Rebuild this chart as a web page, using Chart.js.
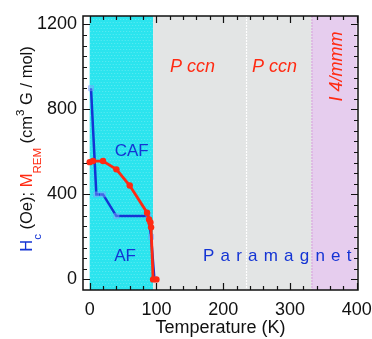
<!DOCTYPE html>
<html>
<head>
<meta charset="utf-8">
<script src="https://cdn.jsdelivr.net/npm/chart.js"></script>
<style>
  html, body { margin: 0; padding: 0; background: #fff; }
  #wrap { width: 372px; height: 339px; }
</style>
</head>
<body>
<div id="wrap"><canvas id="chart"></canvas></div>
<script>
// === Données ===
const hcTemp = [2, 10, 20, 40, 88, 92, 97];
const hcVal = [900, 400, 400, 298, 298, 200, 0];
const mremTemp = [0, 5, 20, 40, 60, 86, 89, 91, 92, 95, 100];
const mremVal = [552, 557, 557, 518, 442, 314, 282, 268, 245, 0, 0];

// zones de phase (en K)
const phaseStart = [0, 95, 333];
const phaseEnd = [95, 333, 400];
const phaseColor = ['#2be4ee', '#e3e5e5', '#e6cdee'];
const phaseSep = 235;

const xTicks = [0, 100, 200, 300, 400];
const yTicks = [0, 400, 800, 1200];

const FONT = "'Liberation Sans', Arial, sans-serif";
const BLUE = '#1434d4';
const RED = '#ff2a12';

// === Fond coloré des phases ===
const phasesPlugin = {
  id: 'phases',
  beforeDatasetsDraw(chart) {
    const { ctx, chartArea: a, scales: { x } } = chart;
    ctx.save();
    phaseStart.forEach((s, i) => {
      const x0 = x.getPixelForValue(s);
      const x1 = x.getPixelForValue(phaseEnd[i]);
      ctx.fillStyle = phaseColor[i];
      ctx.fillRect(x0, a.top, x1 - x0, a.bottom - a.top);
    });
    // petits points blancs sur la zone cyan
    ctx.fillStyle = 'rgba(255,255,255,0.25)';
    const cx0 = x.getPixelForValue(phaseStart[0]), cx1 = x.getPixelForValue(phaseEnd[0]);
    for (let yy = a.top; yy < a.bottom; yy += 3) {
      for (let xx = cx0 + ((yy / 3) % 2) * 1.5; xx < cx1; xx += 3) ctx.fillRect(xx, yy, 1, 1);
    }
    // séparation blanche
    const sx = x.getPixelForValue(phaseSep);
    ctx.strokeStyle = '#ffffff';
    ctx.lineWidth = 1.2;
    ctx.setLineDash([2, 1]);
    ctx.beginPath(); ctx.moveTo(sx, a.top); ctx.lineTo(sx, a.bottom); ctx.stroke();
    const px = x.getPixelForValue(phaseStart[2]);
    ctx.strokeStyle = '#d9a8e0';
    ctx.beginPath(); ctx.moveTo(px, a.top); ctx.lineTo(px, a.bottom); ctx.stroke();
    ctx.restore();
  }
};

// === Cadre + graduations vers l'intérieur ===
const framePlugin = {
  id: 'frame',
  afterDraw(chart) {
    const { ctx, chartArea: a, scales: { x, y } } = chart;
    ctx.save();
    ctx.strokeStyle = '#111';
    ctx.lineWidth = 1.5;
    ctx.strokeRect(a.left, a.top, a.right - a.left, a.bottom - a.top);
    ctx.lineWidth = 1.2;
    ctx.beginPath();
    for (let v = 0; v <= 400; v += 20) {
      const px = Math.round(x.getPixelForValue(v)) + 0.5;
      const len = v % 100 === 0 ? 7 : 4;
      ctx.moveTo(px, a.bottom); ctx.lineTo(px, a.bottom - len);
      ctx.moveTo(px, a.top); ctx.lineTo(px, a.top + len);
    }
    for (let v = 0; v <= 1200; v += 50) {
      const py = Math.round(y.getPixelForValue(v)) + 0.5;
      const len = v % 400 === 0 ? 7 : 4;
      ctx.moveTo(a.left, py); ctx.lineTo(a.left + len, py);
      ctx.moveTo(a.right, py); ctx.lineTo(a.right - len, py);
    }
    ctx.stroke();
    ctx.restore();
  }
};

// === Textes (étiquettes et titre de l'axe y) ===
function drawSpaced(ctx, txt, cx, cy, gap) {
  const widths = [...txt].map(ch => ctx.measureText(ch).width);
  const total = widths.reduce((a, b) => a + b, 0) + gap * (txt.length - 1);
  let xx = cx - total / 2;
  [...txt].forEach((ch, i) => { ctx.fillText(ch, xx, cy); xx += widths[i] + gap; });
}

const textPlugin = {
  id: 'texts',
  afterDraw(chart) {
    const { ctx, scales: { x, y } } = chart;
    ctx.save();
    ctx.textBaseline = 'middle';
    ctx.textAlign = 'center';

    ctx.font = `17px ${FONT}`;
    ctx.fillStyle = BLUE;
    ctx.fillText('CAF', x.getPixelForValue(63), y.getPixelForValue(604));
    ctx.fillText('AF', x.getPixelForValue(53), y.getPixelForValue(110));

    ctx.textAlign = 'left';
    drawSpaced(ctx, 'Paramagnet', x.getPixelForValue(281), y.getPixelForValue(108), 6.2);

    ctx.textAlign = 'center';
    ctx.font = `italic 18px ${FONT}`;
    ctx.fillStyle = RED;
    ctx.fillText('P ccn', x.getPixelForValue(154), y.getPixelForValue(1002));
    ctx.fillText('P ccn', x.getPixelForValue(277), y.getPixelForValue(1002));
    ctx.save();
    ctx.translate(x.getPixelForValue(370), y.getPixelForValue(1002));
    ctx.rotate(-Math.PI / 2);
    ctx.fillText('I 4/mmm', 0, 0);
    ctx.restore();

    // titre y : H_c (Oe); M_REM (cm^3 G / mol)
    const big = `16.5px ${FONT}`, small = `11.5px ${FONT}`;
    const parts = [
      { t: 'H', f: big, c: BLUE, dy: 0 },
      { t: 'c', f: small, c: BLUE, dy: 9 },
      { t: ' (Oe); ', f: big, c: '#111', dy: 0 },
      { t: 'M', f: big, c: RED, dy: 0 },
      { t: 'REM', f: small, c: RED, dy: 9 },
      { t: ' (cm', f: big, c: '#111', dy: 0 },
      { t: '3', f: small, c: '#111', dy: -8 },
      { t: ' G / mol)', f: big, c: '#111', dy: 0 }
    ];
    let total = 0;
    parts.forEach(p => { ctx.font = p.f; p.w = ctx.measureText(p.t).width; total += p.w; });
    ctx.translate(25, 149);
    ctx.rotate(-Math.PI / 2);
    ctx.textAlign = 'left';
    ctx.textBaseline = 'alphabetic';
    let pos = -total / 2;
    parts.forEach(p => {
      ctx.font = p.f; ctx.fillStyle = p.c;
      ctx.fillText(p.t, pos, 7 + p.dy);
      pos += p.w;
    });
    ctx.restore();
  }
};

new Chart(document.getElementById('chart'), {
  type: 'scatter',
  data: {
    datasets: [
      {
        label: 'M_REM',
        data: mremTemp.map((t, i) => ({ x: t, y: mremVal[i] })),
        showLine: true,
        borderColor: RED,
        backgroundColor: RED,
        borderWidth: 2.8,
        pointRadius: 3.2,
        pointBorderWidth: 0,
        tension: 0
      },
      {
        label: 'Hc',
        data: hcTemp.map((t, i) => ({ x: t, y: hcVal[i] })),
        showLine: true,
        borderColor: BLUE,
        borderWidth: 2.5,
        pointStyle: 'rect',
        pointRadius: 3.5,
        pointBackgroundColor: 'rgba(140,170,255,0.4)',
        pointBorderColor: 'rgba(120,150,255,0.45)',
        pointBorderWidth: 1,
        tension: 0
      }
    ]
  },
  options: {
    responsive: true,
    maintainAspectRatio: false,
    animation: false,
    events: [],
    layout: { padding: { left: 0, right: 14, top: 16, bottom: 0 } },
    plugins: { legend: { display: false }, tooltip: { enabled: false } },
    scales: {
      x: {
        type: 'linear',
        min: -10, max: 402,
        grid: { display: false, drawTicks: false, tickLength: 0 },
        border: { display: false },
        afterBuildTicks: s => { s.ticks = xTicks.map(v => ({ value: v })); },
        afterFit: s => { s.height = 49; s.paddingLeft = 0; s.paddingRight = 0; },
        ticks: { color: '#111', font: { family: FONT, size: 18 }, padding: 9, maxRotation: 0, callback: v => String(v) },
        title: { display: true, text: 'Temperature (K)', color: '#111', font: { family: FONT, size: 18 }, padding: { top: 0, bottom: 0 } }
      },
      y: {
        type: 'linear',
        min: -50, max: 1240,
        grid: { display: false, drawTicks: false, tickLength: 0 },
        border: { display: false },
        afterBuildTicks: s => { s.ticks = yTicks.map(v => ({ value: v })); },
        afterFit: s => { s.width = 83; s.paddingTop = 0; s.paddingBottom = 0; },
        ticks: { color: '#111', font: { family: FONT, size: 18 }, padding: 6, callback: v => String(v) }
      }
    }
  },
  plugins: [phasesPlugin, framePlugin, textPlugin]
});
</script>
</body>
</html>
